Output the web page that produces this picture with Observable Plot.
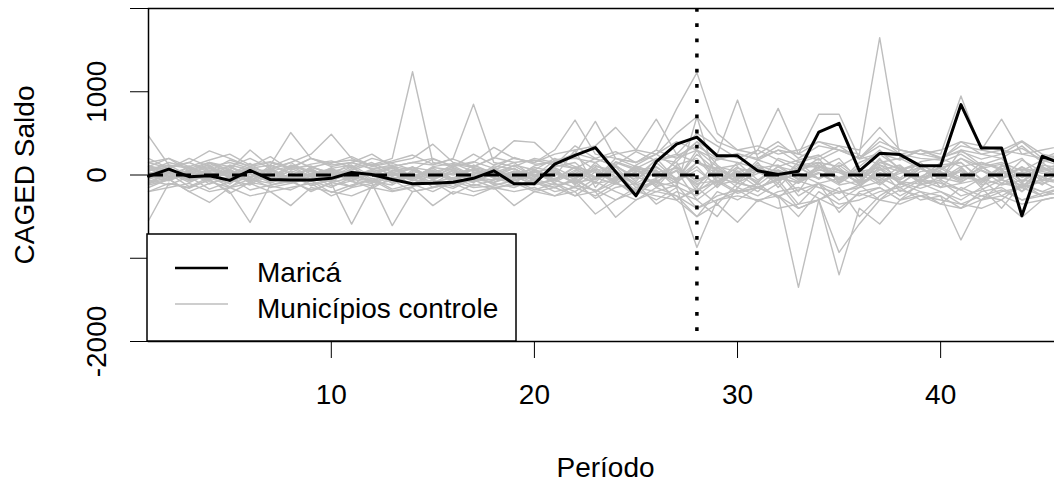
<!DOCTYPE html>
<html>
<head>
<meta charset="utf-8">
<script src="https://cdn.jsdelivr.net/npm/d3@7"></script>
<script src="https://cdn.jsdelivr.net/npm/@observablehq/plot@0.6"></script>
<style>
  html, body { margin: 0; padding: 0; background: white; overflow: hidden; }
  #wrap { width: 1054px; height: 486px; overflow: hidden; position: relative; }
</style>
</head>
<body>
<div id="wrap"></div>
<script>
// ---------------- DATA ----------------
const periods = [1,2,3,4,5,6,7,8,9,10,11,12,13,14,15,16,17,18,19,20,21,22,23,24,25,26,27,28,29,30,31,32,33,34,35,36,37,38,39,40,41,42,43,44,45,46];

const marica = [-15,70,-20,-10,-65,55,-55,-60,-60,-40,30,5,-55,-105,-100,-88,-40,50,-105,-105,130,235,330,40,-250,160,370,455,230,230,50,5,45,515,620,50,260,245,110,110,845,325,325,-490,225,130];

// control municipalities (gray lines)
const ctrl01 = [470,120,80,150,60,300,100,200,90,150,180,120,200,1240,150,100,250,120,200,150,300,660,250,200,150,300,795,1230,500,300,250,400,200,350,300,250,1650,200,300,250,950,300,250,400,200,250];
const ctrl02 = [-550,-100,-150,-60,-200,-570,-120,-80,-180,-100,-590,-130,-60,-200,-150,-100,-60,-150,-120,-80,-200,-150,-250,-100,-180,-300,-150,-870,-300,-200,-150,-250,-1350,-300,-200,-250,-150,-300,-200,-250,-780,-300,-200,-150,-250,-200];
const ctrl03 = [150,80,200,100,150,80,120,510,200,100,150,80,100,150,120,200,850,150,100,200,150,250,644,200,150,300,200,400,250,900,200,300,250,730,730,200,400,300,250,200,350,300,670,250,200,300];
const ctrl04 = [100,200,50,150,100,200,80,150,250,490,200,100,150,200,370,150,100,200,412,392,172,200,150,250,300,670,250,500,350,200,300,800,250,400,300,200,350,250,300,200,300,250,300,410,250,200];
const ctrl05 = [-100,-50,-200,-330,-150,-100,-200,-150,-100,-250,-150,-100,-608,-200,-150,-100,-200,-150,-368,-200,-150,-250,-200,-508,-300,-200,-250,-400,-300,-250,-300,-400,-350,-300,-1200,-400,-588,-300,-250,-350,-400,-300,-250,-350,-300,-250];
const ctrl06 = [-200,-150,-100,-200,-150,-250,-200,-368,-150,-200,-250,-150,-200,-150,-368,-200,-250,-150,-200,-150,-250,-200,-468,-300,-200,-250,-300,-500,-350,-568,-300,-250,-400,-300,-930,-588,-300,-350,-250,-300,-350,-400,-300,-508,-300,-250];
const ctrl07 = [50,100,150,290,200,100,150,80,200,120,150,250,100,150,200,100,150,332,200,150,250,300,350,572,300,250,500,700,400,300,350,250,300,400,350,300,572,300,250,300,400,350,300,250,300,350];
const ctrl08 = [100,50,-30,80,20,-60,40,110,-20,60,30,-80,50,90,-40,20,70,-10,40,-60,120,80,-90,150,60,-120,200,300,-100,150,80,-50,120,90,200,-80,180,60,-40,150,250,100,-60,180,40,90];
const ctrl09 = [-120,-60,40,-80,-150,20,-90,-30,-110,-50,-140,60,-70,-20,-100,-160,-40,-90,30,-70,-150,-60,-200,-20,-180,-90,-140,-250,-60,-200,-100,-280,-70,-150,-220,-120,-300,-90,-160,-80,-250,-180,-60,-120,-200,-100];
const ctrl10 = [50,150,90,-40,120,60,-20,100,40,-60,80,150,30,-30,90,60,-50,110,70,-20,180,220,60,-80,120,250,90,-150,200,150,-60,100,180,240,50,-100,150,200,80,-50,300,120,200,-80,60,150];
const ctrl11 = [-40,30,-90,20,-60,-120,50,-30,-80,10,-50,-100,20,-70,30,-40,-90,40,-20,-110,-60,-150,40,-100,-200,-50,-300,-180,-80,-220,-150,-60,-350,-100,-200,-150,-80,-250,-120,-60,-180,-300,-100,-150,-80,-200];
const ctrl12 = [200,80,150,50,180,100,220,60,130,170,90,200,140,60,190,110,160,80,210,130,150,260,190,120,280,170,230,350,200,260,180,300,150,220,350,190,260,180,300,210,280,190,250,320,180,230];
const ctrl13 = [-200,-100,-160,-50,-220,-90,-130,-180,-70,-210,-120,-60,-190,-140,-80,-230,-110,-170,-90,-200,-250,-130,-180,-300,-150,-200,-120,-400,-250,-180,-320,-200,-150,-280,-400,-220,-300,-180,-250,-200,-350,-250,-180,-300,-220,-150];
const ctrl14 = [0,40,-20,60,-10,30,70,-40,20,50,-30,10,80,-20,40,0,60,-30,20,70,-50,100,30,-60,80,40,-100,150,60,-40,120,30,-80,100,60,-20,150,80,-40,60,200,50,-30,90,20,60];
const ctrl15 = [80,-20,60,120,-40,90,30,-60,100,20,-30,70,120,-50,40,90,-20,60,150,-30,80,-120,100,60,-200,150,-60,100,-150,80,40,-100,160,-50,90,-120,60,120,-80,40,-60,150,80,-200,100,-40];
const ctrl16 = [-80,20,-140,-30,60,-100,-20,40,-130,-60,20,-90,-40,30,-150,-50,10,-120,-70,40,-100,-200,-40,100,-150,-80,50,-300,-120,-60,-200,40,-250,-100,-300,-150,100,-200,-60,-150,-100,-50,-250,-120,-60,-100];
const ctrl17 = [150,200,100,180,250,120,160,90,200,140,220,110,170,240,130,190,100,210,150,180,120,350,200,280,150,250,400,300,180,250,200,350,250,180,300,200,450,250,200,180,400,250,200,350,150,250];
const ctrl18 = [-150,-50,-200,-100,-30,-180,-120,-60,-200,-90,-140,-40,-170,-110,-200,-80,-150,-130,-60,-180,-100,-250,-80,-200,-300,-150,-250,-500,-200,-300,-150,-250,-500,-200,-350,-300,-200,-150,-300,-250,-400,-200,-150,-300,-250,-200];
const ctrl19 = [30,-60,110,-10,70,-80,120,20,-40,90,-70,40,-10,100,-60,50,-90,30,110,-20,60,-100,150,-50,90,-150,120,200,-80,100,-120,60,-200,150,-50,80,-100,60,120,-150,80,-100,60,-150,100,-50];
const ctrl20 = [60,120,-10,40,100,-30,60,150,10,80,120,-20,100,60,-10,130,90,40,-40,110,160,80,200,100,-20,180,250,150,80,120,300,180,60,150,100,240,120,-40,160,200,100,150,60,-100,120,80];
const ctrl21 = [-60,-120,-20,-170,-80,-40,-150,-100,-10,-130,-70,-160,-30,-110,-60,-140,-20,-100,-150,-50,-120,-80,-280,-150,-100,-350,-200,-300,-500,-150,-250,-100,-400,-300,-150,-500,-250,-100,-200,-350,-150,-250,-300,-100,-200,-250];
const ctrl22 = [120,-40,50,100,0,140,-30,80,110,-10,60,130,-20,90,50,-40,120,20,80,-60,100,150,-50,200,100,-30,160,400,120,-60,180,100,40,200,-100,150,250,80,-100,120,150,-50,100,200,-60,120];
const ctrl23 = [-20,90,-60,30,-110,70,-50,-100,60,-30,100,-80,40,-130,20,-70,80,-40,-100,60,-20,300,-150,120,-80,200,150,-200,100,-100,150,-150,100,-50,120,-60,200,-120,80,-50,100,-150,120,-80,150,-30];
const ctrl24 = [10,-30,60,-50,30,-20,80,-70,-10,40,-40,20,-90,10,-50,60,-30,-60,50,-10,30,-50,90,-100,40,60,-150,700,-100,50,-80,100,-60,30,-100,50,-60,100,-40,30,-80,60,-100,40,-20,60];
const ctrl25 = [40,-60,20,90,-30,50,-80,10,70,-40,30,-90,60,-20,80,-50,10,70,-30,40,-60,90,-20,50,-100,30,80,-60,40,-90,20,60,-40,100,-30,50,-70,20,90,-50,40,-80,30,70,-20,50];
const ctrl26 = [-30,50,-70,10,60,-40,90,-60,20,-80,50,-10,-60,40,-20,80,-70,30,-40,60,-90,40,-60,110,-30,-80,60,-120,80,-30,50,-70,90,-40,60,-100,30,-60,80,-30,-90,60,-40,100,-70,20];
const ctrl27 = [90,30,-40,50,110,-20,60,-50,90,30,-70,40,100,-10,50,-60,80,20,-30,90,40,-50,120,-20,60,90,-40,150,20,-60,100,-30,70,120,-50,40,90,-60,110,30,-40,80,130,-30,60,90];
const ctrl28 = [-90,-30,50,-110,-20,-70,30,-100,-40,20,-80,-130,10,-60,-100,30,-50,-90,-10,-120,-40,20,-100,-60,30,-140,-80,-200,-30,-100,-150,-40,-90,20,-120,-70,-30,-150,-50,-100,-180,-40,-120,-60,-100,-30];
const ctrl29 = [20,80,-50,30,-20,100,-60,50,-10,70,-40,20,90,-30,60,-80,30,-20,80,-50,20,-100,70,30,-50,100,-80,60,-120,40,90,-60,20,-40,150,-30,70,-100,40,80,-60,100,-40,30,-120,70];
const ctrl30 = [-50,10,90,-20,40,-90,20,-30,80,-60,10,50,-100,60,-30,20,-80,90,-40,10,-70,60,-30,-110,50,-20,100,-80,30,-150,60,-20,-100,80,-60,20,-120,50,-80,100,-30,-60,40,-150,80,-20];
const ctrl31 = [70,-10,30,-60,90,10,-40,80,-20,40,100,-50,30,70,-40,110,-10,50,-70,30,90,-30,60,-80,110,20,-60,250,50,-20,80,120,-50,60,30,-80,120,40,-20,90,150,-60,80,20,100,-30];
const ctrl32 = [-10,-70,30,-40,-100,40,-20,-60,10,-90,-30,40,-50,-110,20,-40,-80,10,-60,-20,30,-90,-50,20,-120,-40,50,-100,-70,20,-150,-60,10,-100,-40,-130,20,-80,-110,-30,60,-120,-50,-200,-30,-90];
const ctrl33 = [110,60,-20,140,30,80,-30,120,50,-10,150,70,20,-50,100,140,40,-20,120,60,200,100,-40,160,80,200,-60,300,100,40,-100,200,120,150,-80,100,300,60,150,-40,200,100,150,50,180,100];
const ctrl34 = [-110,40,-60,-20,-140,-50,-100,20,-70,-150,-30,-80,-120,10,-90,-30,-130,-60,20,-100,-150,-40,-200,-80,-250,-60,-300,-150,-350,-100,-150,-250,-180,-100,-450,-200,-150,-300,-100,-200,-300,-150,-400,-100,-250,-150];

const controls = [ctrl01,ctrl02,ctrl03,ctrl04,ctrl05,ctrl06,ctrl07,ctrl08,ctrl09,ctrl10,ctrl11,ctrl12,ctrl13,ctrl14,ctrl15,ctrl16,ctrl17,
                  ctrl18,ctrl19,ctrl20,ctrl21,ctrl22,ctrl23,ctrl24,ctrl25,ctrl26,ctrl27,ctrl28,ctrl29,ctrl30,ctrl31,ctrl32,ctrl33,ctrl34];

const xTicks = [10, 20, 30, 40];
const yTicks = [-2000, -1000, 0, 1000, 2000];
const yTickLabels = [-2000, 0, 1000];
const yDomain = [-2000, 2000];
const xDomain = [1, 46];
const zeroLevel = [0];
const treatmentPeriod = [28];
const xLabel = "Período";
const yLabel = "CAGED Saldo";
const legendLabels = ["Maricá", "Municípios controle"];

// ---------------- TABLES ----------------
const ctrlRows = [];
controls.forEach((arr, k) => arr.forEach((v, i) => ctrlRows.push({id: k, period: periods[i], value: v})));
const maricaRows = marica.map((v, i) => ({period: periods[i], value: v}));

// ---------------- PLOT ----------------
const W = 1070, H = 486;
const mL = 148, mR = 8, mT = 8, mB = 145;
const FONT = "'Liberation Sans', Arial, Helvetica, sans-serif";
const FS = 28;
const GRAY = "#bebebe";

const plot = Plot.plot({
  width: W,
  height: H,
  marginLeft: mL,
  marginRight: mR,
  marginTop: mT,
  marginBottom: mB,
  style: {fontFamily: FONT, fontSize: "28px", maxWidth: "none", background: "white", color: "black"},
  x: {domain: xDomain, ticks: xTicks, tickSize: 17, tickFormat: () => "", label: null},
  y: {domain: yDomain, ticks: yTicks, tickSize: 18, tickFormat: () => "", label: null},
  marks: [
    Plot.line(ctrlRows, {x: "period", y: "value", z: "id", stroke: GRAY, strokeWidth: 1.4}),
    Plot.ruleY(zeroLevel, {stroke: "black", strokeWidth: 3, strokeDasharray: "15,13"}),
    Plot.ruleX(treatmentPeriod, {stroke: "black", strokeWidth: 3.5, strokeDasharray: "3.8,11.4"}),
    Plot.line(maricaRows, {x: "period", y: "value", stroke: "black", strokeWidth: 3, strokeLinejoin: "round"}),
    Plot.frame({stroke: "black", strokeWidth: 1.5}),
    Plot.text(xTicks, {x: d => d, frameAnchor: "bottom", dy: 53.5, text: d => String(d), fontSize: FS, fill: "black", lineAnchor: "middle"}),
    Plot.text(yTickLabels, {y: d => d, frameAnchor: "left", dx: -51.5, rotate: -90, text: d => String(d), fontSize: FS, fill: "black", textAnchor: "middle", lineAnchor: "middle"}),
    Plot.text([xLabel], {frameAnchor: "bottom", dy: 126.5, text: d => d, fontSize: FS, fill: "black", lineAnchor: "middle"}),
    Plot.text([yLabel], {frameAnchor: "left", dx: -123, rotate: -90, text: d => d, fontSize: FS, fill: "black", textAnchor: "middle", lineAnchor: "middle"})
  ]
});

document.getElementById("wrap").appendChild(plot);

// ---------------- LEGEND (bottom-left inside plot) ----------------
const svg = d3.select(plot.tagName.toLowerCase() === "svg" ? plot : plot.querySelector("svg"));
const lgLeft = mL - 1, lgBottom = H - mB, lgW = 369, lgH = 107;
const lg = svg.append("g").attr("text-anchor", "start");
lg.append("rect")
  .attr("x", lgLeft).attr("y", lgBottom - lgH).attr("width", lgW).attr("height", lgH)
  .attr("fill", "white").attr("stroke", "black").attr("stroke-width", 1.5);
const rows = [{label: legendLabels[0], color: "black", w: 2.5, y: lgBottom - 73},
              {label: legendLabels[1], color: GRAY, w: 1.4, y: lgBottom - 37}];
rows.forEach(r => {
  lg.append("line").attr("x1", lgLeft + 28).attr("x2", lgLeft + 81)
    .attr("y1", r.y).attr("y2", r.y).attr("stroke", r.color).attr("stroke-width", r.w);
  lg.append("text").attr("x", lgLeft + 110).attr("y", r.y + 13.5)
    .attr("text-anchor", "start")
    .attr("font-family", FONT).attr("font-size", FS).attr("fill", "black").text(r.label);
});
</script>
</body>
</html>
